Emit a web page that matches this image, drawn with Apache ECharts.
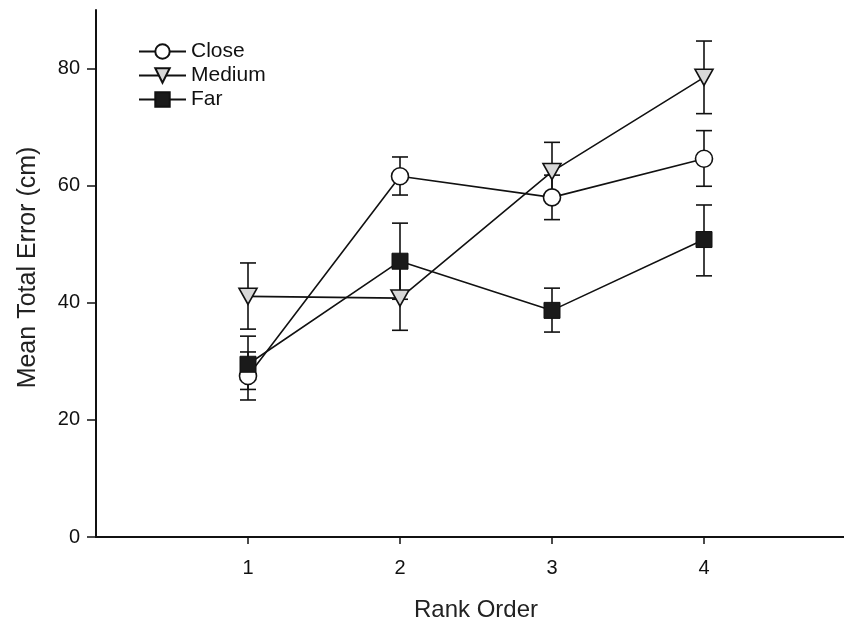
<!DOCTYPE html>
<html><head><meta charset="utf-8">
<script src="https://cdn.jsdelivr.net/npm/echarts@6/dist/echarts.min.js"></script>
<style>html,body{margin:0;padding:0;background:#fff}#c{width:844px;height:621px}</style>
</head><body><div id="c"></div>
<script>
const rankOrder = [1, 2, 3, 4];
const closeMean = [27.5, 61.6, 58.0, 64.6];
const closeUpper = [31.6, 64.9, 61.8, 69.4];
const closeLower = [23.4, 58.4, 54.2, 59.9];
const mediumMean = [41.1, 40.8, 62.4, 78.5];
const mediumUpper = [46.8, 46.0, 67.4, 84.7];
const mediumLower = [35.5, 35.3, 57.4, 72.3];
const farMean = [29.5, 47.1, 38.7, 50.8];
const farUpper = [34.3, 53.6, 42.5, 56.7];
const farLower = [25.2, 40.6, 35.0, 44.6];
const yTicks = [0, 20, 40, 60, 80];

const font = 'Liberation Sans, Arial, sans-serif';
const chart = echarts.init(document.getElementById('c'));

function pairs(xs, ys){ return xs.map((x,i)=>[x, ys[i]]); }
function errData(xs, lo, hi){ return xs.map((x,i)=>[x, lo[i], hi[i]]); }
function errSeries(name, data){
  return {
    type: 'custom', name: name + ' err', z: 1, silent: true,
    data: data,
    encode: {x: 0, y: [1, 2]},
    renderItem: function(params, api){
      const x = api.value(0);
      const lo = api.coord([x, api.value(1)]);
      const hi = api.coord([x, api.value(2)]);
      const hw = 8;
      const st = {stroke: '#111', lineWidth: 1.6};
      return {type: 'group', children: [
        {type: 'line', shape: {x1: lo[0], y1: lo[1], x2: hi[0], y2: hi[1]}, style: st},
        {type: 'line', shape: {x1: lo[0]-hw, y1: lo[1], x2: lo[0]+hw, y2: lo[1]}, style: st},
        {type: 'line', shape: {x1: hi[0]-hw, y1: hi[1], x2: hi[0]+hw, y2: hi[1]}, style: st}
      ]};
    }
  };
}

const option = {
  backgroundColor: '#fff',
  animation: false,
  textStyle: {fontFamily: font},
  grid: {left: 96, top: 10, width: 760, height: 527, outerBoundsMode: 'none', containLabel: false},
  legend: {
    orient: 'vertical', left: 133, top: 36, itemGap: 3,
    itemWidth: 47, itemHeight: 18,
    textStyle: {fontFamily: font, fontSize: 21, color: '#111'},
    data: ['Close', 'Medium', 'Far']
  },
  xAxis: {
    type: 'value', min: 0, max: 5,
    name: 'Rank Order', nameLocation: 'middle', nameGap: 61,
    nameTextStyle: {fontFamily: font, fontSize: 24, color: '#222'},
    axisLine: {show: true, lineStyle: {color: '#111', width: 2}},
    axisTick: {show: true, length: 7, lineStyle: {color: '#111', width: 1.5}, customValues: rankOrder},
    axisLabel: {fontFamily: font, fontSize: 20, color: '#111', margin: 21, customValues: rankOrder},
    splitLine: {show: false}
  },
  yAxis: {
    type: 'value', min: 0, max: 90,
    name: 'Mean Total Error (cm)', nameLocation: 'middle', nameGap: 55,
    nameTextStyle: {fontFamily: font, fontSize: 25, color: '#222', padding: [0, 0, 0, 12]},
    axisLine: {show: true, lineStyle: {color: '#111', width: 2}},
    axisTick: {show: true, length: 9, lineStyle: {color: '#111', width: 1.5}, customValues: yTicks},
    axisLabel: {fontFamily: font, fontSize: 20, color: '#111', margin: 16, customValues: yTicks},
    splitLine: {show: false}
  },
  series: [
    errSeries('Close', errData(rankOrder, closeLower, closeUpper)),
    errSeries('Medium', errData(rankOrder, mediumLower, mediumUpper)),
    errSeries('Far', errData(rankOrder, farLower, farUpper)),
    {
      name: 'Close', type: 'line', z: 3, data: pairs(rankOrder, closeMean),
      symbol: 'circle', symbolSize: 17, showAllSymbol: true,
      lineStyle: {color: '#111', width: 1.6},
      itemStyle: {color: '#fff', borderColor: '#111', borderWidth: 1.6}
    },
    {
      name: 'Medium', type: 'line', z: 3, data: pairs(rankOrder, mediumMean),
      symbol: 'triangle', symbolRotate: 180, symbolSize: [18, 16], showAllSymbol: true,
      lineStyle: {color: '#111', width: 1.6},
      itemStyle: {color: '#d8d8d8', borderColor: '#111', borderWidth: 1.6}
    },
    {
      name: 'Far', type: 'line', z: 3, data: pairs(rankOrder, farMean),
      symbol: 'rect', symbolSize: 16, showAllSymbol: true,
      lineStyle: {color: '#111', width: 1.6},
      itemStyle: {color: '#1a1a1a', borderColor: '#111', borderWidth: 1}
    }
  ]
};
chart.setOption(option);
</script></body></html>
